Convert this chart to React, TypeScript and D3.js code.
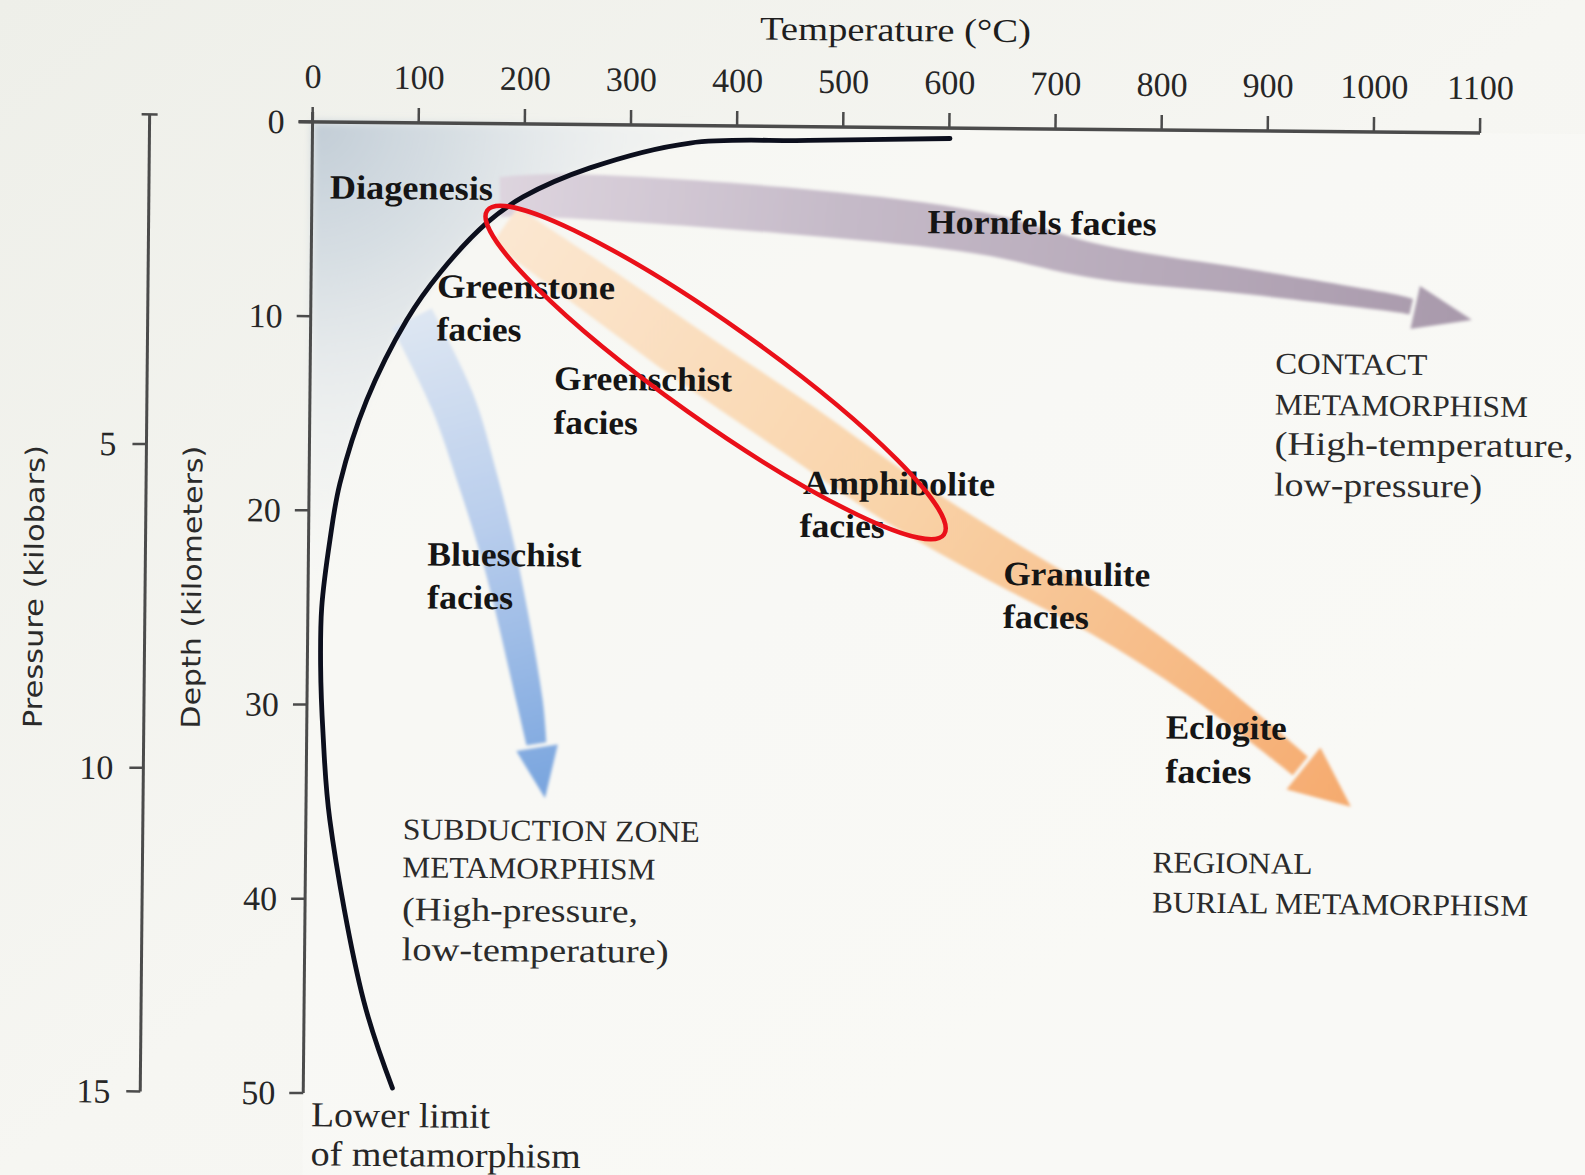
import React from 'react';
import * as d3 from 'd3';

const W = 1585;
const H = 1175;

// ---------- data ----------
const temperatureTicks = [0, 100, 200, 300, 400, 500, 600, 700, 800, 900, 1000, 1100];
const depthTicks = [0, 10, 20, 30, 40, 50];
const pressureTicks = [5, 10, 15];

// Lower limit of metamorphism: [temperature °C, depth km]
const lowerLimitCurve: [number, number][] = [
  [84, 49.7], [56, 45.2], [22.5, 35.9], [15.4, 31.5], [12.5, 28.0], [13.0, 25.0],
  [20.2, 21.5], [29.0, 18.6], [53.5, 14.3], [90.5, 10.15], [121.5, 7.7], [165.3, 5.1],
  [199, 3.76], [261.8, 2.23], [355.8, 0.9], [467.5, 0.71], [600.7, 0.54],
];

// Facies-series paths: [temperature °C, depth km], last point is the arrow tip
const contactPath: [number, number][] = [
  [177.2, 3.77], [234.8, 3.69], [472.2, 4.44], [629.6, 5.39], [743.2, 6.82],
  [884.6, 7.78], [1026, 8.84], [1094, 9.62],
];
const regionalPath: [number, number][] = [
  [182.3, 5.22], [272.3, 8.61], [365.8, 12.17], [461, 15.62], [556.8, 19.17],
  [651.6, 22.22], [746.4, 25.1], [841.2, 28.56], [984.5, 34.74],
];
const subductionPath: [number, number][] = [
  [95.4, 10.05], [133.9, 14.25], [159, 18.36], [182.2, 22.83], [210.1, 29.8], [225.1, 34.7],
];

// highlighted field (ellipse centre) [temperature °C, depth km]
const highlightCentre: [number, number] = [382, 12.7];

const faciesLabels: string[][] = [
  ['Diagenesis'],
  ['Hornfels facies'],
  ['Greenstone', 'facies'],
  ['Greenschist', 'facies'],
  ['Amphibolite', 'facies'],
  ['Blueschist', 'facies'],
  ['Granulite', 'facies'],
  ['Eclogite', 'facies'],
];
const regimeLabels: string[][] = [
  ['SUBDUCTION ZONE', 'METAMORPHISM', '(High-pressure,', 'low-temperature)'],
  ['CONTACT', 'METAMORPHISM', '(High-temperature,', 'low-pressure)'],
  ['REGIONAL', 'BURIAL METAMORPHISM'],
];
const limitLabel = ['Lower limit', 'of metamorphism'];
const axisTitles = { temperature: 'Temperature (°C)', depth: 'Depth (kilometers)', pressure: 'Pressure (kilobars)' };

// ---------- layout (pixels) ----------
// [x, baseline, width] per line
const faciesLayout: [number, number, number][][] = [
  [[326, 203, 163]],
  [[924, 232, 229]],
  [[434, 301, 178], [434, 344, 85]],
  [[552, 392, 178], [552, 436, 84]],
  [[802, 494, 192], [799, 537, 85]],
  [[427, 569, 154], [427, 612, 86]],
  [[1003, 583, 147], [1003, 626, 86]],
  [[1167, 735, 121], [1167, 779, 86]],
];
const regimeLayout: [number, number, number][][] = [
  [[405, 843, 297], [405, 881, 253], [405, 924, 236], [405, 964, 267]],
  [[1273, 369, 152], [1273, 410, 253], [1273, 450, 299], [1273, 491, 208]],
  [[1155, 869, 160], [1155, 909, 376]],
];
const limitLayout: [number, number, number][] = [[316, 1131, 179], [316, 1170, 270]];

const SERIF = "'Liberation Serif','Times New Roman',Times,serif";
const SANS = "'DejaVu Sans','Liberation Sans',sans-serif";

export default function App() {
  const x = d3.scaleLinear().domain([0, 1100]).range([308, 1475.5]);
  const y = d3.scaleLinear().domain([0, 50]).range([126.6, 1097.8]);
  const p = d3.scaleLinear().domain([0, 15]).range([126.6, 1097.8]);
  const pressureAxisX = 145;

  const smooth = d3.line<[number, number]>().curve(d3.curveCatmullRom.alpha(0.5));

  const curveScreen = lowerLimitCurve.map(([t, d]) => [x(t), y(d)] as [number, number]);
  const curvePath = smooth(curveScreen) || '';

  // diagenesis shaded region: above / left of the curve
  const upper = lowerLimitCurve.filter(([, d]) => d <= 31.6).slice().reverse();
  const upperScreen = upper.map(([t, d]) => [x(t), y(d)] as [number, number]);
  const diagPath =
    `M${x(0)},${y(0)}L${x(600.7)},${y(0)}` +
    (smooth(upperScreen) || '').replace(/^M/, 'L') +
    `L${x(0)},${y(31.5)}Z`;

  function arrow(pts: [number, number][], widths: number[], baseW: number, headLen: number, headHalf: number) {
    const s = pts.map(([t, d]) => [x(t), y(d)] as [number, number]);
    const tip = s[s.length - 1];
    const prev = s[s.length - 2];
    let dx = tip[0] - prev[0];
    let dy = tip[1] - prev[1];
    const L = Math.hypot(dx, dy);
    dx /= L; dy /= L;
    const base: [number, number] = [tip[0] - dx * headLen, tip[1] - dy * headLen];
    const body = [...s.slice(0, -1), base];
    const ws = [...widths, baseW];
    const left: [number, number][] = [];
    const right: [number, number][] = [];
    body.forEach((pt, i) => {
      const a = body[Math.max(0, i - 1)];
      const b = body[Math.min(body.length - 1, i + 1)];
      let tx = b[0] - a[0];
      let ty = b[1] - a[1];
      const l = Math.hypot(tx, ty);
      tx /= l; ty /= l;
      const nx = -ty, ny = tx;
      left.push([pt[0] + (nx * ws[i]) / 2, pt[1] + (ny * ws[i]) / 2]);
      right.push([pt[0] - (nx * ws[i]) / 2, pt[1] - (ny * ws[i]) / 2]);
    });
    const bodyPath = (smooth(left) || '') + (smooth(right.reverse()) || '').replace(/^M/, 'L') + 'Z';
    const nx = -dy, ny = dx;
    const b2: [number, number] = [base[0] + dx * 4, base[1] + dy * 4];
    const head = `M${b2[0] + nx * headHalf},${b2[1] + ny * headHalf}L${tip[0]},${tip[1]}L${b2[0] - nx * headHalf},${b2[1] - ny * headHalf}Z`;
    return { bodyPath, head, start: s[0], tip };
  }

  const contact = arrow(contactPath, [40, 44, 46, 42, 34, 25, 17], 16, 62, 22);
  const regional = arrow(regionalPath, [44, 50, 54, 55, 52, 46, 38, 30], 24, 65, 27);
  const subduction = arrow(subductionPath, [44, 44, 40, 34, 26], 20, 55, 21);

  const arrows = [
    { id: 'gContact', a: contact, stops: [['0', '#ddd4de'], ['0.35', '#c5bac8'], ['1', '#a899ab']] },
    { id: 'gRegional', a: regional, stops: [['0', '#fbe7d1'], ['0.45', '#f9d4aa'], ['1', '#f5aa6e']] },
    { id: 'gSubduction', a: subduction, stops: [['0', '#dde6f2'], ['0.45', '#b8cdec'], ['1', '#78a4de']] },
  ];

  const [hcx, hcy] = [x(highlightCentre[0]), y(highlightCentre[1])];

  return (
    <svg
      width={W}
      height={H}
      viewBox={`0 0 ${W} ${H}`}
      style={{ position: 'absolute', left: 0, top: 0, display: 'block' }}
    >
      <defs>
        <filter id="soft" x="-10%" y="-10%" width="120%" height="120%">
          <feGaussianBlur stdDeviation="1.6" />
        </filter>
        <filter id="softer" x="-10%" y="-10%" width="120%" height="120%">
          <feGaussianBlur stdDeviation="4" />
        </filter>
        <linearGradient id="gBg" x1="0" y1="0" x2="1" y2="1">
          <stop offset="0" stopColor="#eeefe9" />
          <stop offset="0.5" stopColor="#f6f6f2" />
          <stop offset="1" stopColor="#f8f8f5" />
        </linearGradient>
        <radialGradient id="gDiag" gradientUnits="userSpaceOnUse" cx={x(0)} cy={y(0)} r={470}>
          <stop offset="0" stopColor="#b8c5d1" stopOpacity="0.85" />
          <stop offset="0.3" stopColor="#c6d1db" stopOpacity="0.65" />
          <stop offset="0.65" stopColor="#d9e0e7" stopOpacity="0.3" />
          <stop offset="1" stopColor="#e8edf0" stopOpacity="0" />
        </radialGradient>
        {arrows.map(({ id, a, stops }) => (
          <linearGradient key={id} id={id} gradientUnits="userSpaceOnUse" x1={a.start[0]} y1={a.start[1]} x2={a.tip[0]} y2={a.tip[1]}>
            {stops.map(([o, c]) => (
              <stop key={o} offset={o} stopColor={c} />
            ))}
          </linearGradient>
        ))}
      </defs>

      <rect x={0} y={0} width={W} height={H} fill="url(#gBg)" />

      <g transform="rotate(0.55 800 600)">
        <rect x={x(0)} y={y(0)} width={W} height={H} fill="#fafaf7" opacity={0.6} />

        {/* diagenesis field */}
        <path d={diagPath} fill="url(#gDiag)" filter="url(#softer)" />

        {/* facies-series arrows */}
        {arrows.map(({ id, a }) => (
          <g key={id} filter="url(#soft)">
            <path d={a.bodyPath} fill={`url(#${id})`} />
            <path d={a.head} fill={`url(#${id})`} />
          </g>
        ))}

        {/* lower limit of metamorphism */}
        <path d={curvePath} fill="none" stroke="#0c0f1d" strokeWidth={4.8} strokeLinecap="round" />

        {/* temperature axis */}
        <line x1={x(0) - 14} x2={x(1100)} y1={y(0)} y2={y(0)} stroke="#4b4b4b" strokeWidth={3.5} />
        {temperatureTicks.map((t) => (
          <g key={t}>
            <line x1={x(t)} x2={x(t)} y1={y(0)} y2={y(0) - 15} stroke="#4b4b4b" strokeWidth={2.5} />
            <text x={x(t)} y={y(0) - 34} textAnchor="middle" fontFamily={SERIF} fontSize={34} fill="#262626">
              {t}
            </text>
          </g>
        ))}
        <text
          x={754.5}
          y={40}
          fontFamily={SERIF}
          fontSize={33}
          fill="#1e1e1e"
          textLength={271}
          lengthAdjust="spacingAndGlyphs"
        >
          {axisTitles.temperature}
        </text>

        {/* depth axis */}
        <line x1={x(0)} x2={x(0)} y1={y(0) - 10} y2={y(50)} stroke="#4b4b4b" strokeWidth={3} />
        {depthTicks.map((d) => (
          <g key={d}>
            <line x1={x(0) - 14} x2={x(0)} y1={y(d)} y2={y(d)} stroke="#4b4b4b" strokeWidth={2.5} />
            <text x={280} y={y(d) + 11.5} textAnchor="end" fontFamily={SERIF} fontSize={34} fill="#262626">
              {d}
            </text>
          </g>
        ))}
        <text
          transform={`translate(201, ${593}) rotate(-90)`}
          textAnchor="middle"
          fontFamily={SANS}
          fontSize={26}
          fill="#2a2a2a"
          textLength={283}
          lengthAdjust="spacingAndGlyphs"
        >
          {axisTitles.depth}
        </text>

        {/* pressure axis */}
        <line x1={pressureAxisX} x2={pressureAxisX} y1={p(0) - 6} y2={p(15)} stroke="#4b4b4b" strokeWidth={3} />
        <line x1={pressureAxisX - 8} x2={pressureAxisX + 8} y1={p(0) - 6} y2={p(0) - 6} stroke="#4b4b4b" strokeWidth={2.5} />
        {pressureTicks.map((v) => (
          <g key={v}>
            <line x1={pressureAxisX - 14} x2={pressureAxisX} y1={p(v)} y2={p(v)} stroke="#4b4b4b" strokeWidth={2.5} />
            <text x={115} y={p(v) + 11.5} textAnchor="end" fontFamily={SERIF} fontSize={34} fill="#262626">
              {v}
            </text>
          </g>
        ))}
        <text
          transform={`translate(43, ${594}) rotate(-90)`}
          textAnchor="middle"
          fontFamily={SANS}
          fontSize={26}
          fill="#2a2a2a"
          textLength={283}
          lengthAdjust="spacingAndGlyphs"
        >
          {axisTitles.pressure}
        </text>

        {/* facies labels */}
        {faciesLabels.map((lines, i) =>
          lines.map((ln, j) => {
            const [lx, ly, lw] = faciesLayout[i][j];
            return (
              <text
                key={`f${i}-${j}`}
                x={lx}
                y={ly}
                fontFamily={SERIF}
                fontSize={34}
                fontWeight={700}
                fill="#151515"
                textLength={lw}
                lengthAdjust="spacingAndGlyphs"
              >
                {ln}
              </text>
            );
          })
        )}

        {/* metamorphism regime labels */}
        {regimeLabels.map((lines, i) =>
          lines.map((ln, j) => {
            const [lx, ly, lw] = regimeLayout[i][j];
            const caps = ln === ln.toUpperCase();
            return (
              <text
                key={`r${i}-${j}`}
                x={lx}
                y={ly}
                fontFamily={SERIF}
                fontSize={caps ? 30 : 33}
                fill="#2b2b2b"
                textLength={lw}
                lengthAdjust="spacingAndGlyphs"
              >
                {ln}
              </text>
            );
          })
        )}

        {limitLabel.map((ln, j) => {
          const [lx, ly, lw] = limitLayout[j];
          return (
            <text
              key={`l${j}`}
              x={lx}
              y={ly}
              fontFamily={SERIF}
              fontSize={35}
              fill="#262626"
              textLength={lw}
              lengthAdjust="spacingAndGlyphs"
            >
              {ln}
            </text>
          );
        })}

        {/* highlighted field */}
        <ellipse
          cx={hcx}
          cy={hcy}
          rx={280}
          ry={48}
          transform={`rotate(34.8 ${hcx} ${hcy})`}
          fill="none"
          stroke="#ea1019"
          strokeWidth={4.5}
        />
      </g>
    </svg>
  );
}
